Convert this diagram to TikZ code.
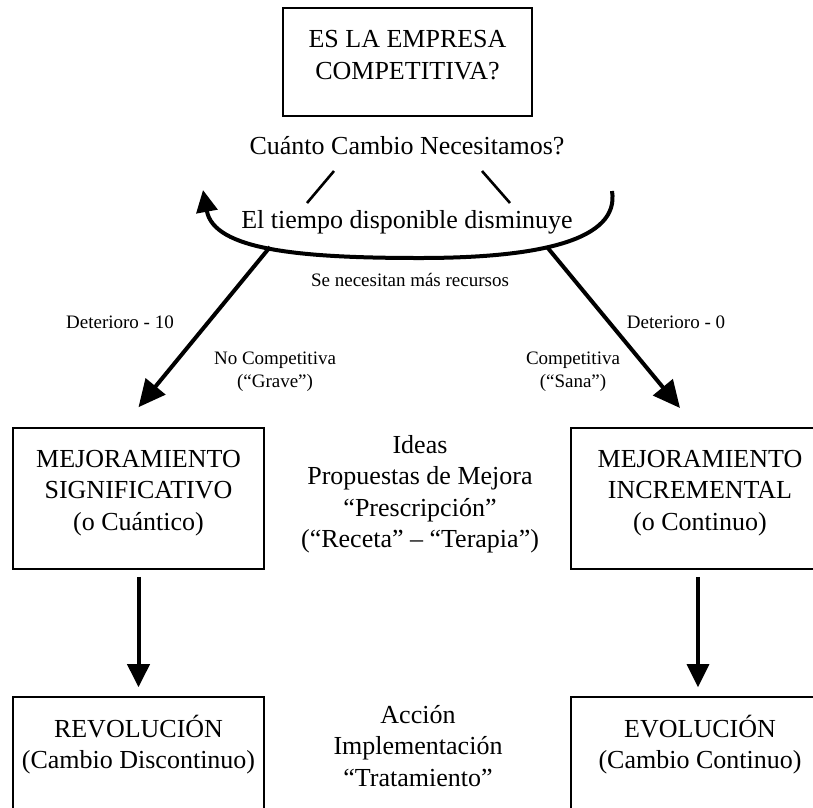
\documentclass[tikz,border=0pt]{standalone}
\usepackage{fontspec}
\setmainfont{Liberation Serif}
\usetikzlibrary{arrows.meta,positioning}

\tikzset{
  bigtext/.style={font=\fontsize{26}{31.5}\selectfont, align=center, inner sep=0pt},
  smalltext/.style={font=\fontsize{19}{23}\selectfont, align=center, inner sep=0pt},
  frame/.style={draw, line width=1.6pt, inner sep=0pt},
  bigarrow/.style={line width=4pt, -{Triangle[length=27pt,width=25pt]}},
  downarrow/.style={line width=4pt, -{Triangle[length=23pt,width=22pt]}},
  thinline/.style={line width=2.6pt},
}

\begin{document}
\begin{tikzpicture}[x=1pt, y=-1pt]
\clip (0,0) rectangle (813,807);
\fill[white] (0,0) rectangle (813,807);

% boxes
\node[frame, minimum width=249pt, minimum height=108pt] (top) at (407.5,62) {};
\node[frame, minimum width=251pt, minimum height=141pt] (sig) at (138.5,498.5) {};
\node[frame, minimum width=269pt, minimum height=141pt] (inc) at (705.5,498.5) {};
\node[frame, minimum width=251pt, minimum height=143pt] (rev) at (138.5,768.5) {};
\node[frame, minimum width=269pt, minimum height=143pt] (evo) at (705.5,768.5) {};

% texts
\node[bigtext] (toptxt) at (407.5,55) {ES LA EMPRESA\\COMPETITIVA?};
\node[bigtext] (cuanto) at (407,146) {Cuánto Cambio Necesitamos?};
\node[bigtext] (tiempo) at (407,222) {El tiempo disponible disminuye};
\node[smalltext] (recursos) at (410,280) {Se necesitan más recursos};
\node[smalltext] (det10) at (120,322) {Deterioro - 10};
\node[smalltext] (det0) at (676,322) {Deterioro - 0};
\node[smalltext] (grave) at (275,372) {No Competitiva\\(“Grave”)};
\node[smalltext] (sana) at (573,372) {Competitiva\\(“Sana”)};
\node[bigtext] (ideas) at (420,494) {Ideas\\Propuestas de Mejora\\“Prescripción”\\(“Receta” – “Terapia”)};
\node[bigtext] (sigtxt) at (138.5,493) {MEJORAMIENTO\\SIGNIFICATIVO\\(o Cuántico)};
\node[bigtext] (inctxt) at (700,493) {MEJORAMIENTO\\INCREMENTAL\\(o Continuo)};
\node[bigtext] (accion) at (418,746) {Acción\\Implementación\\“Tratamiento”};
\node[bigtext] (revtxt) at (138.5,744.5) {REVOLUCIÓN\\(Cambio Discontinuo)};
\node[bigtext] (evotxt) at (700,744.5) {EVOLUCIÓN\\(Cambio Continuo)};

% connectors
\coordinate (splitL) at (334,171);
\coordinate (splitLb) at (307,203);
\coordinate (splitR) at (482,171);
\coordinate (splitRb) at (510,203);
\coordinate (loopR) at (612,191);
\coordinate (loopL) at (203,190);
\coordinate (startL) at (270,247);
\coordinate (startR) at (547,247);
\coordinate (tipR) at (680,408);

\draw[thinline] (splitL) -- (splitLb);
\draw[thinline] (splitR) -- (splitRb);
\draw[line width=4pt, -{Triangle[length=22pt,width=21pt]}] (loopR) .. controls (620,240) and (540,258) .. (420,258) .. controls (300,258) and (214,250) .. (loopL);
\draw[bigarrow] (startL) -- ([yshift=20pt]sig.north);
\draw[bigarrow] (startR) -- (tipR);
\draw[downarrow] ([yshift=-7pt]sig.south) -- ([yshift=9pt]rev.north);
\draw[downarrow, line width=3.2pt] ([xshift=-7.5pt,yshift=-7pt]inc.south) -- ([xshift=-7.5pt,yshift=9pt]evo.north);
\end{tikzpicture}
\end{document}
